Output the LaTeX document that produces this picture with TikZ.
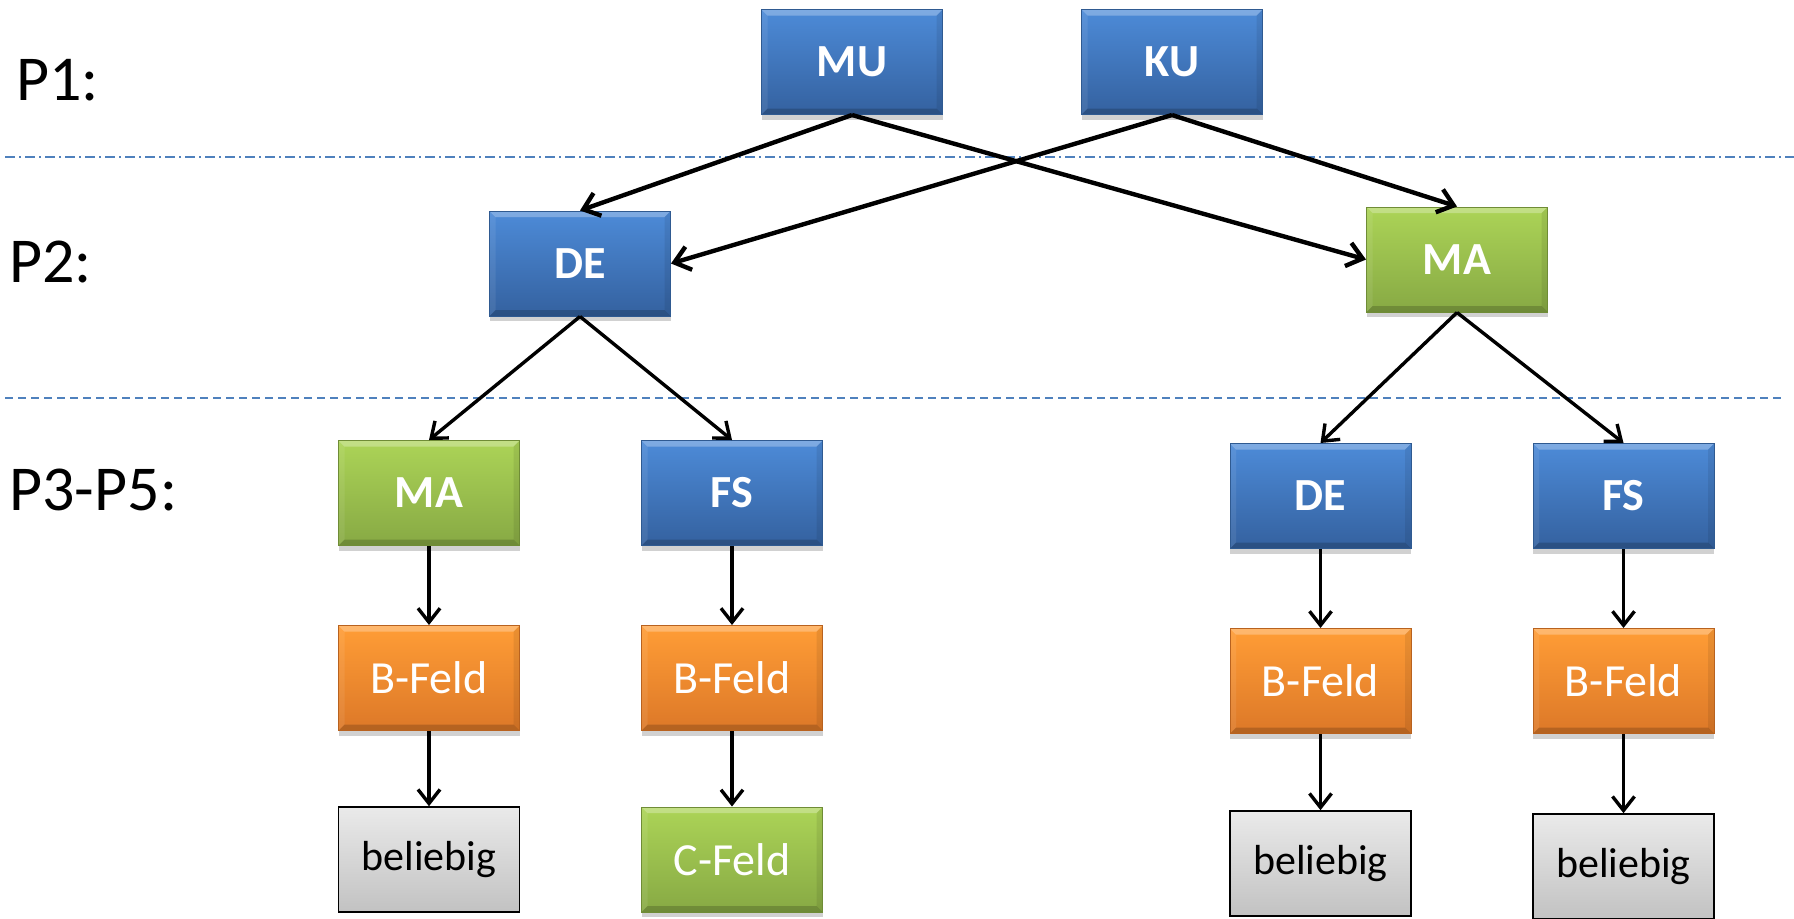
\documentclass[tikz,border=0pt]{standalone}
\usepackage{fontspec}
\setmainfont{Carlito}
\usetikzlibrary{arrows.meta,shadows}
\definecolor{bluetop}{HTML}{4D8BD8}
\definecolor{bluebot}{HTML}{34619F}
\definecolor{blueedge}{HTML}{2F5A91}
\definecolor{greentop}{HTML}{ACD457}
\definecolor{greenbot}{HTML}{87A944}
\definecolor{greenedge}{HTML}{6F8C36}
\definecolor{orangetop}{HTML}{FF9D36}
\definecolor{orangebot}{HTML}{DC7828}
\definecolor{orangeedge}{HTML}{B8621F}
\definecolor{greytop}{HTML}{EAEAEA}
\definecolor{greybot}{HTML}{C2C2C2}
\definecolor{sepblue}{HTML}{4F81BD}
\begin{document}
\begin{tikzpicture}[x=0.5pt,y=-0.5pt,
  bevel/.style={path picture={
    \fill[white,opacity=0.28] (path picture bounding box.north west) -- (path picture bounding box.north east)
      -- ([xshift=-3pt,yshift=-3pt]path picture bounding box.north east) -- ([xshift=3pt,yshift=-3pt]path picture bounding box.north west) -- cycle;
    \fill[black,opacity=0.18] (path picture bounding box.south west) -- (path picture bounding box.south east)
      -- ([xshift=-3pt,yshift=3pt]path picture bounding box.south east) -- ([xshift=3pt,yshift=3pt]path picture bounding box.south west) -- cycle;
    \fill[black,opacity=0.08] (path picture bounding box.north east) -- (path picture bounding box.south east)
      -- ([xshift=-3pt,yshift=3pt]path picture bounding box.south east) -- ([xshift=-3pt,yshift=-3pt]path picture bounding box.north east) -- cycle;
    \fill[white,opacity=0.08] (path picture bounding box.north west) -- (path picture bounding box.south west)
      -- ([xshift=3pt,yshift=3pt]path picture bounding box.south west) -- ([xshift=3pt,yshift=-3pt]path picture bounding box.north west) -- cycle;
  }},
  box/.style={minimum width=90.5pt, minimum height=52.5pt, inner sep=0pt,
    font=\fontsize{23}{27}\selectfont, text=white, bevel,
    drop shadow={shadow xshift=0pt, shadow yshift=-2.5pt, opacity=0.3, fill=black!60}},
  bluebox/.style={box, top color=bluetop, bottom color=bluebot, draw=blueedge, line width=0.5pt, font=\fontsize{23}{27}\selectfont\bfseries},
  greenbox/.style={box, top color=greentop, bottom color=greenbot, draw=greenedge, line width=0.5pt},
  greenboldbox/.style={greenbox, font=\fontsize{23}{27}\selectfont\bfseries},
  orangebox/.style={box, top color=orangetop, bottom color=orangebot, draw=orangeedge, line width=0.5pt},
  greybox/.style={minimum width=90.5pt, minimum height=52.5pt, inner sep=0pt,
    top color=greytop, bottom color=greybot, draw=black, line width=0.8pt,
    font=\fontsize{21}{25}\selectfont, text=black},
  lab/.style={anchor=west, inner sep=0pt, font=\fontsize{32}{37}\selectfont, text=black},
  bigarrow/.style={line width=2.2pt, -{Straight Barb[length=7.5pt, width=12pt, line width=2.2pt]}},
  smallarrow/.style={line width=1.7pt, -{Straight Barb[length=7pt, width=11pt, line width=1.7pt]}},
  sep/.style={sepblue, line width=0.7pt}
]
\useasboundingbox (0,0) rectangle (1794,918);

% separators
\coordinate (s1a) at (5,157);
\coordinate (s1b) at (1794,157);
\coordinate (s2a) at (5,398);
\coordinate (s2b) at (1784,398);
\draw[sep, dash pattern=on 5pt off 2pt on 1pt off 2pt] (s1a) -- (s1b);
\draw[sep, dash pattern=on 4pt off 2.5pt] (s2a) -- (s2b);

% labels
\node[lab] (p1) at (16,80) {P1:};
\node[lab] (p2) at (9,262) {P2:};
\node[lab] (p3) at (9,490) {P3-P5:};

% row 1
\node[bluebox] (mu) at (852,62) {MU};
\node[bluebox] (ku) at (1172,62) {KU};
% row 2
\node[bluebox] (de) at (580,263.5) {DE};
\node[greenboldbox] (ma) at (1457,259.5) {MA};
% row 3
\node[greenboldbox] (ma1) at (429,493) {MA};
\node[bluebox] (fs1) at (732,493) {FS};
\node[bluebox] (de2) at (1320.5,496) {DE};
\node[bluebox] (fs2) at (1623.5,496) {FS};
% row 4
\node[orangebox] (b1) at (429,678) {B-Feld};
\node[orangebox] (b2) at (732,678) {B-Feld};
\node[orangebox] (b3) at (1320.5,681) {B-Feld};
\node[orangebox] (b4) at (1623.5,681) {B-Feld};
% row 5
\node[greybox] (z1) at (429,859.5) {beliebig};
\node[greenbox] (c1) at (732,859.5) {C-Feld};
\node[greybox] (z3) at (1320.5,863.5) {beliebig};
\node[greybox] (z4) at (1623.5,866.5) {beliebig};

% connectors
\draw[bigarrow] (mu.south) -- (de.north);
\draw[bigarrow] (mu.south) -- (ma.west);
\draw[bigarrow] (ku.south) -- (de.east);
\draw[bigarrow] (ku.south) -- (ma.north);

\draw[smallarrow] (de.south) -- (ma1.north);
\draw[smallarrow] (de.south) -- (fs1.north);
\draw[smallarrow] (ma.south) -- (de2.north);
\draw[smallarrow] (ma.south) -- (fs2.north);

\draw[smallarrow] (ma1) -- (b1);
\draw[smallarrow] (fs1) -- (b2);
\draw[smallarrow] (de2) -- (b3);
\draw[smallarrow] (fs2) -- (b4);
\draw[smallarrow] (b1) -- (z1);
\draw[smallarrow] (b2) -- (c1);
\draw[smallarrow] (b3) -- (z3);
\draw[smallarrow] (b4) -- (z4);
\end{tikzpicture}
\end{document}
